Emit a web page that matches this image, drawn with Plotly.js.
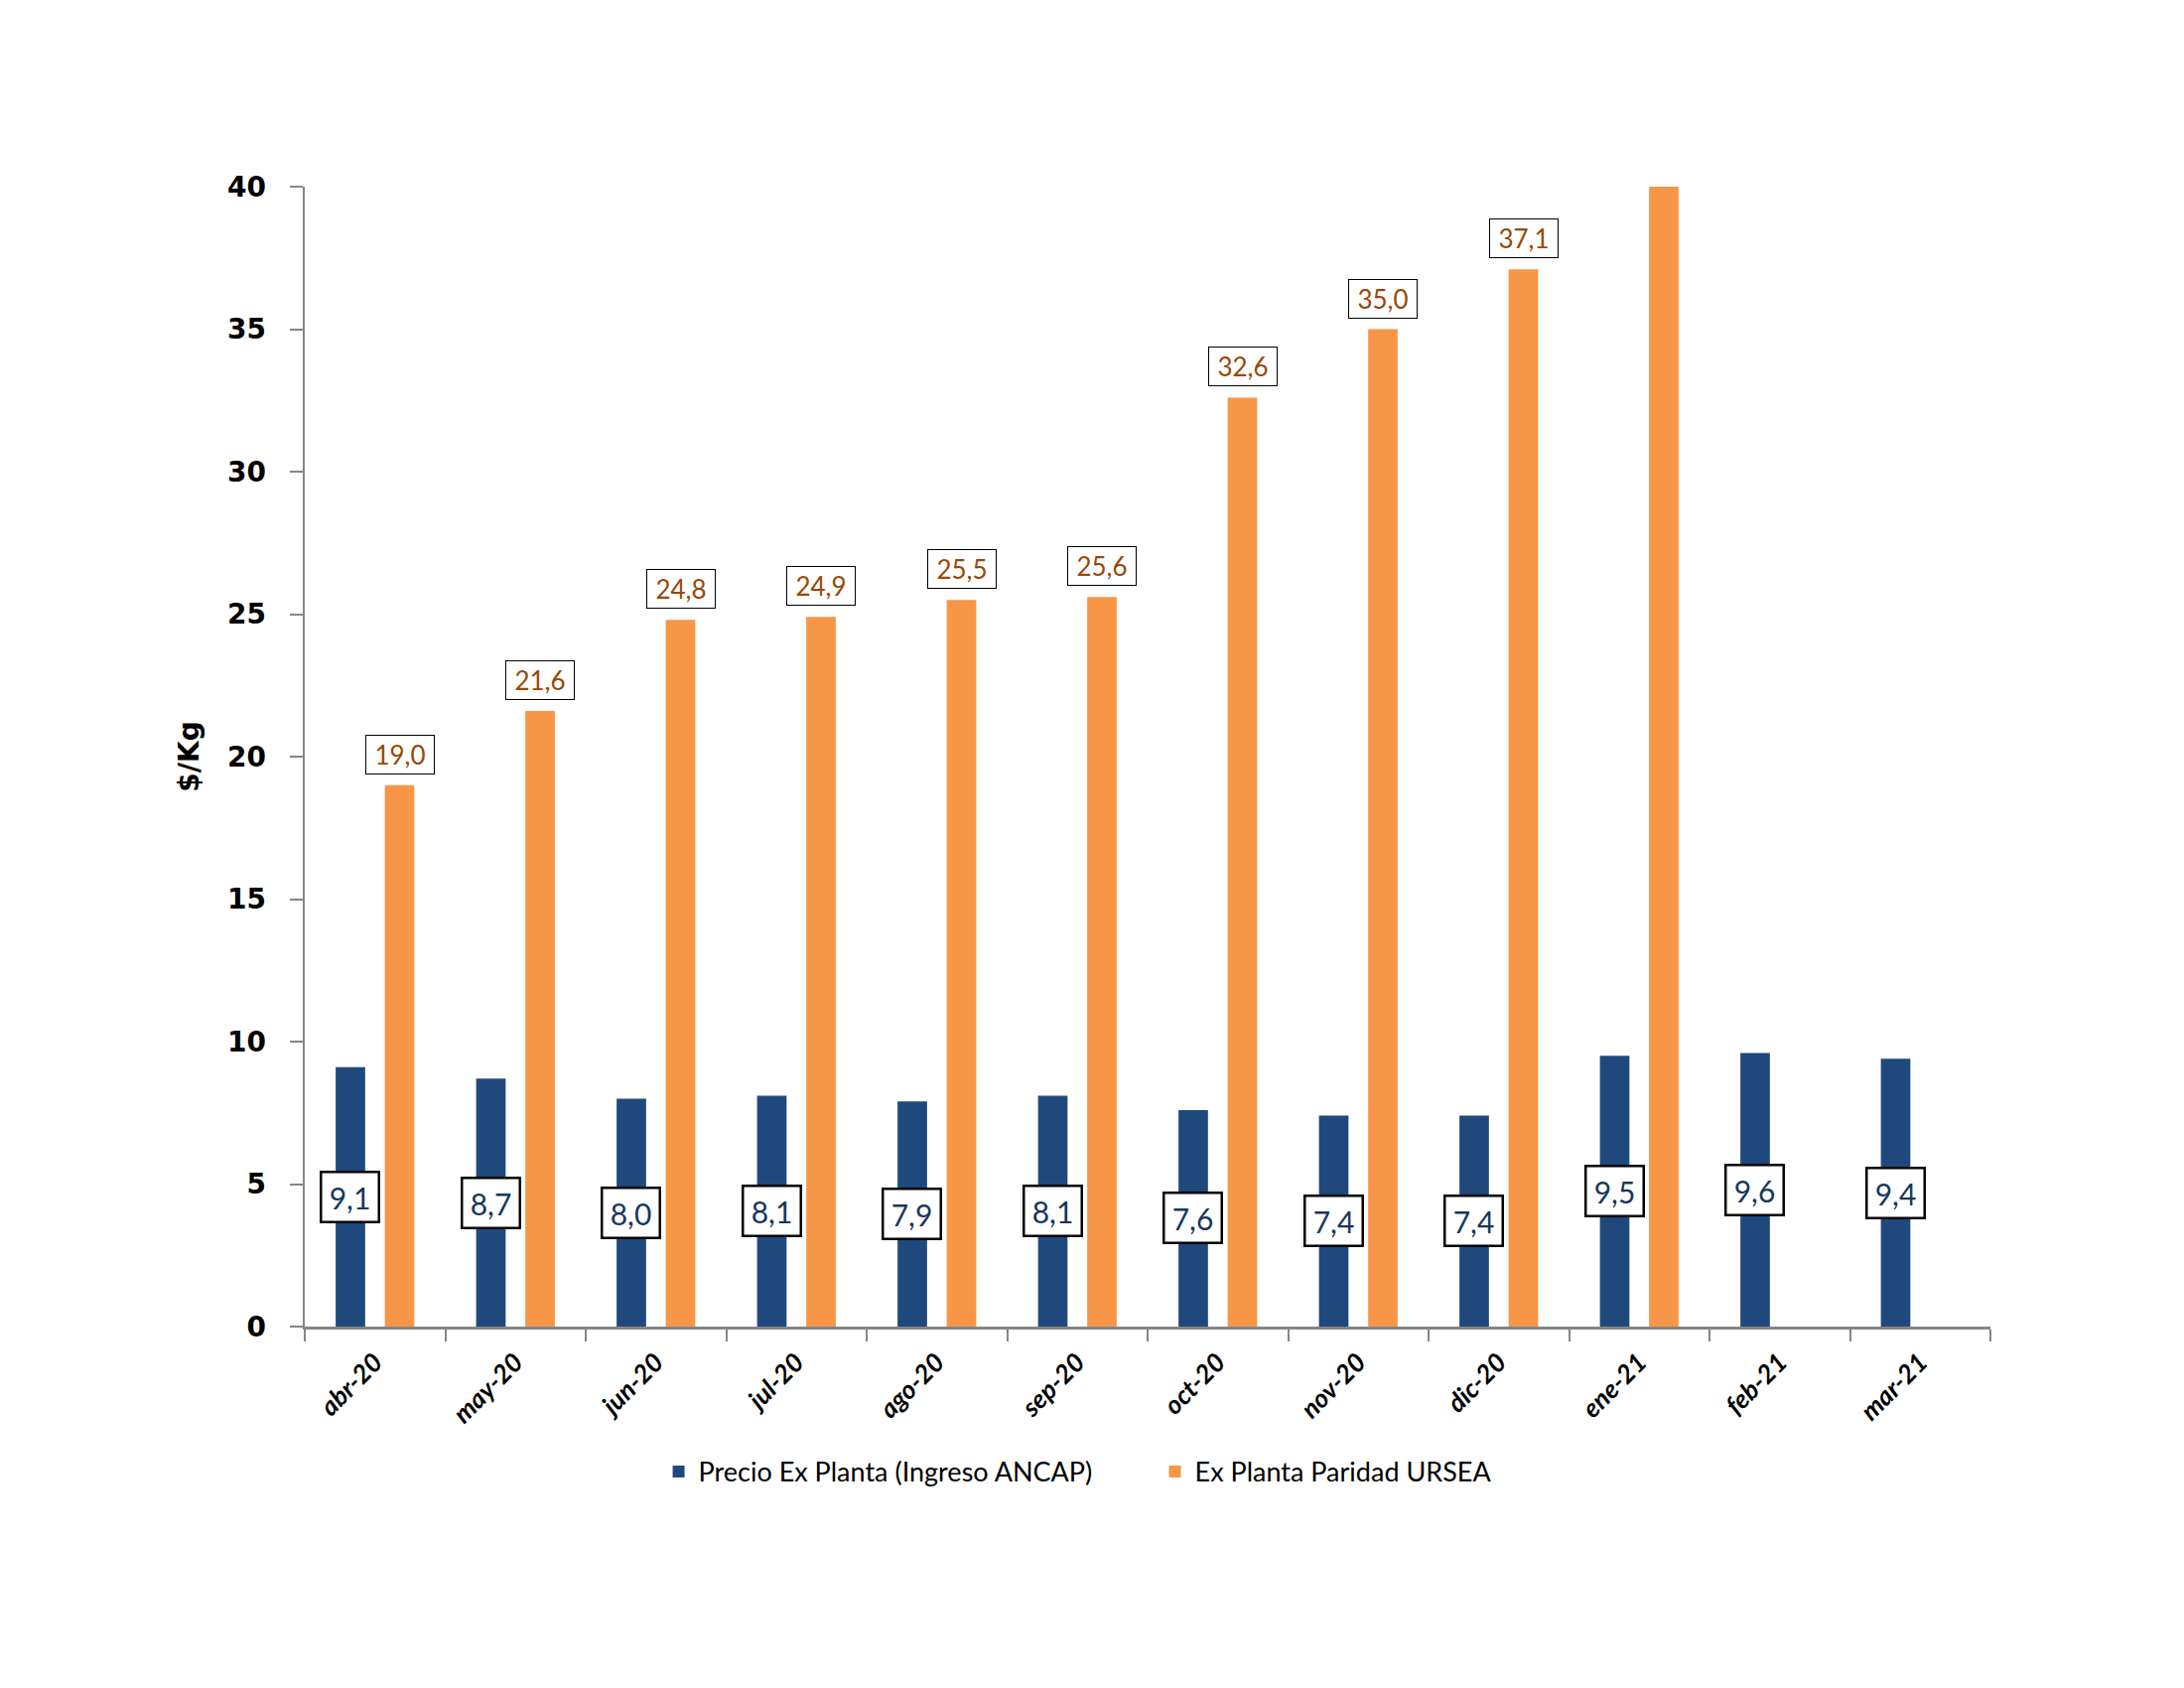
<!DOCTYPE html>
<html>
<head>
<meta charset="utf-8">
<script src="https://cdn.plot.ly/plotly-3.0.1.min.js"></script>
<style>html,body{margin:0;padding:0;background:#fff;}#chart{width:2200px;height:1700px;}</style>
</head>
<body>
<div id="chart"></div>
<script>
const categories = ["abr-20","may-20","jun-20","jul-20","ago-20","sep-20","oct-20","nov-20","dic-20","ene-21","feb-21","mar-21"];
const precioExPlanta = [9.1, 8.7, 8.0, 8.1, 7.9, 8.1, 7.6, 7.4, 7.4, 9.5, 9.6, 9.4];
const paridadURSEA = [19.0, 21.6, 24.8, 24.9, 25.5, 25.6, 32.6, 35.0, 37.1, 42.0, null, null];
const seriesNames = ["Precio Ex Planta (Ingreso ANCAP)", "Ex Planta Paridad URSEA"];
const yTicks = [0, 5, 10, 15, 20, 25, 30, 35, 40];

const BLUE = "#1F497D", ORANGE = "#F79646";
const YMAX = 40;
const BARGAP = 0.3;
const off = (1 - BARGAP) / 4;
const fmt = v => v.toFixed(1).replace(".", ",");

const traces = [
  {type: "bar", name: seriesNames[0], x: categories, y: precioExPlanta,
   marker: {color: BLUE}, hoverinfo: "none"},
  {type: "bar", name: seriesNames[1], x: categories, y: paridadURSEA,
   marker: {color: ORANGE}, hoverinfo: "none"}
];

const annotations = [];
precioExPlanta.forEach((v, i) => {
  if (v == null) return;
  annotations.push({
    xref: "x", yref: "y", x: i - off, y: v / 2, text: fmt(v), showarrow: false,
    xanchor: "center", yanchor: "middle",
    font: {family: "Lato, 'Open Sans', sans-serif", size: 30, color: "#17375E"},
    bgcolor: "#FFFFFF", bordercolor: "#000000", borderwidth: 2.5, borderpad: 2,
    width: 52, height: 44
  });
});
paridadURSEA.forEach((v, i) => {
  if (v == null || v > YMAX) return;
  annotations.push({
    xref: "x", yref: "y", x: i + off, y: v, text: fmt(v), showarrow: false,
    xanchor: "center", yanchor: "bottom", yshift: 11,
    font: {family: "Lato, 'Open Sans', sans-serif", size: 26, color: "#984807"},
    bgcolor: "#FFFFFF", bordercolor: "#000000", borderwidth: 1, borderpad: 2,
    width: 64, height: 34
  });
});

const layout = {
  width: 2200, height: 1700,
  paper_bgcolor: "#FFFFFF", plot_bgcolor: "#FFFFFF",
  margin: {l: 307, r: 195, t: 188, b: 364},
  barmode: "group", bargap: BARGAP, bargroupgap: 0.4,
  showlegend: true,
  legend: {orientation: "h", x: 0.21, xanchor: "left", y: -0.1275, yanchor: "middle",
    font: {family: "Lato, 'Open Sans', sans-serif", size: 27, color: "#000000"},
    itemsizing: "constant", entrywidth: 455, entrywidthmode: "pixels"},
  xaxis: {
    type: "category", tickson: "boundaries", ticks: "outside", ticklen: 12, tickwidth: 2,
    tickcolor: "#868686", showline: true, linecolor: "#868686", linewidth: 2.5,
    showgrid: false, zeroline: false, tickangle: -45, ticklabelstandoff: 8,
    tickfont: {family: "Lato, 'Open Sans', sans-serif", size: 26, color: "#000000", weight: "bold", style: "italic"}
  },
  yaxis: {
    range: [0, YMAX], tickvals: yTicks, ticktext: yTicks.map(String),
    ticks: "outside", ticklen: 13, tickwidth: 2, tickcolor: "#868686",
    showline: true, linecolor: "#868686", linewidth: 2.5,
    showgrid: false, zeroline: false, ticklabelstandoff: 18,
    tickfont: {family: "'DejaVu Sans', Verdana, sans-serif", size: 28, color: "#000000", weight: "bold"},
    title: {text: "$/Kg", standoff: 20,
      font: {family: "'DejaVu Sans', Verdana, sans-serif", size: 28, color: "#000000", weight: "bold"}}
  },
  annotations: annotations
};

Plotly.newPlot("chart", traces, layout, {staticPlot: true, displayModeBar: false});
</script>
</body>
</html>
